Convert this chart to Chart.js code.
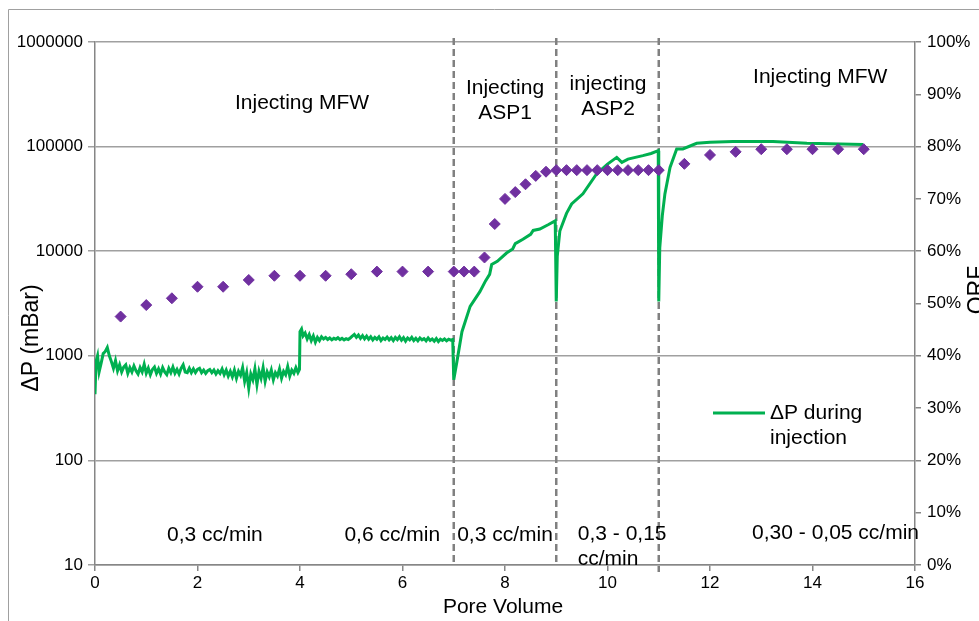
<!DOCTYPE html>
<html>
<head>
<meta charset="utf-8">
<script src="https://cdn.jsdelivr.net/npm/chart.js@4/dist/chart.umd.min.js"></script>
<style>
  html, body { margin: 0; padding: 0; background: #fff; }
  #wrap { width: 979px; height: 621px; position: relative; }
</style>
</head>
<body>
<div id="wrap"><canvas id="chart" width="979" height="621"></canvas></div>
<script>
// ΔP during the first MFW injection (0,3 cc/min)
const mfw1PV = [0, 0.02, 0.05, 0.08, 0.12, 0.16, 0.20, 0.24, 0.28, 0.32,
  0.36, 0.40, 0.44, 0.48, 0.52, 0.56, 0.60, 0.64, 0.68, 0.72,
  0.76, 0.80, 0.84, 0.88, 0.92, 0.96, 1.00, 1.04, 1.08, 1.12,
  1.16, 1.20, 1.24, 1.28, 1.32, 1.36, 1.40, 1.44, 1.48, 1.52,
  1.56, 1.60, 1.64, 1.68, 1.72, 1.76, 1.80, 1.84, 1.88, 1.92,
  1.96, 2.00, 2.04, 2.08, 2.12, 2.16, 2.20, 2.24, 2.28, 2.32,
  2.36, 2.40, 2.44, 2.48, 2.52, 2.56, 2.60, 2.64, 2.68, 2.72,
  2.76, 2.80, 2.84, 2.88, 2.92, 2.96, 3.00, 3.04, 3.08, 3.12,
  3.16, 3.20, 3.24, 3.28, 3.32, 3.36, 3.40, 3.44, 3.48, 3.52,
  3.56, 3.60, 3.64, 3.68, 3.72, 3.76, 3.80, 3.84, 3.88, 3.92,
  3.96, 3.99];
const mfw1DP = [430, 880, 1000, 700, 850, 1050, 1100, 1200, 1000, 880,
  760, 900, 720, 820, 700, 780, 820, 680, 770, 700,
  800, 720, 670, 770, 700, 830, 680, 760, 660, 740,
  780, 680, 750, 670, 770, 700, 660, 760, 690, 780,
  680, 740, 670, 760, 820, 700, 690, 760, 690, 750,
  690, 740, 760, 690, 730, 680, 720, 740, 690, 730,
  670, 720, 680, 750, 660, 730, 640, 710, 630, 730,
  610, 710, 650, 770, 570, 690, 490, 670, 590, 750,
  530, 710, 610, 770, 570, 700, 630, 730, 590, 690,
  640, 750, 610, 710, 660, 790, 640, 730, 680, 770,
  690, 740];

// ΔP during the second MFW injection (0,6 cc/min)
const mfw2PV = [4.00, 4.03, 4.06, 4.10, 4.14, 4.18, 4.22, 4.26, 4.30, 4.34,
  4.38, 4.42, 4.46, 4.50, 4.54, 4.58, 4.62, 4.66, 4.70, 4.74,
  4.78, 4.82, 4.86, 4.90, 4.94, 4.98, 5.02, 5.06, 5.10, 5.14,
  5.18, 5.22, 5.26, 5.30, 5.34, 5.38, 5.42, 5.46, 5.50, 5.54,
  5.58, 5.62, 5.66, 5.70, 5.74, 5.78, 5.82, 5.86, 5.90, 5.94,
  5.98, 6.02, 6.06, 6.10, 6.14, 6.18, 6.22, 6.26, 6.30, 6.34,
  6.38, 6.42, 6.46, 6.50, 6.54, 6.58, 6.62, 6.66, 6.70, 6.74,
  6.78, 6.82, 6.86, 6.90, 6.94, 6.98];
const mfw2DP = [1700, 1800, 1550, 1650, 1450, 1600, 1400, 1550, 1350, 1500,
  1400, 1520, 1450, 1500, 1430, 1480, 1420, 1470, 1440, 1490,
  1430, 1470, 1420, 1460, 1430, 1480, 1540, 1600, 1500, 1580,
  1470, 1560, 1450, 1540, 1440, 1520, 1420, 1500, 1440, 1520,
  1400, 1480, 1430, 1510, 1420, 1490, 1400, 1500, 1430, 1520,
  1410, 1490, 1380, 1480, 1420, 1500, 1400, 1470, 1390, 1480,
  1420, 1460, 1390, 1480, 1400, 1450, 1380, 1460, 1370, 1440,
  1400, 1450, 1390, 1440, 1410, 1430];

// ΔP during ASP1, ASP2 and the final MFW
const aspPV = [7.00, 7.06, 7.16, 7.32, 7.51, 7.62, 7.70, 7.74, 7.85, 8.03,
  8.15, 8.20, 8.35, 8.50, 8.55, 8.68, 8.85, 8.98, 9.00, 9.02,
  9.07, 9.20, 9.30, 9.52, 9.79, 10.00, 10.18, 10.28, 10.40, 10.69,
  10.85, 10.99, 11.00, 11.02, 11.07, 11.12, 11.22, 11.35, 11.47, 11.74,
  12.00, 12.45, 13.23, 13.89, 14.99];
const aspDP = [590, 870, 1700, 2970, 4100, 5200, 6000, 7450, 8000, 9600,
  10500, 11800, 13000, 14500, 15800, 16300, 18000, 19500, 3300, 9000,
  15600, 23000, 28300, 35400, 55000, 68000, 78900, 70600, 76000, 82000,
  86000, 91500, 3300, 10800, 22000, 35300, 63200, 95000, 95000, 107500,
  110000, 112000, 112000, 107500, 104500];

// ORF (%) points
const orfPV = [0.5, 1, 1.5, 2, 2.5, 3, 3.5, 4, 4.5, 5,
  5.5, 6, 6.5, 7, 7.2, 7.4, 7.6, 7.8, 8, 8.2,
  8.4, 8.6, 8.8, 9, 9.2, 9.4, 9.6, 9.8, 10, 10.2,
  10.4, 10.6, 10.8, 11, 11.5, 12, 12.5, 13, 13.5, 14,
  14.5, 15];
const orfVal = [47.5, 49.7, 51.0, 53.2, 53.2, 54.5, 55.3, 55.3, 55.3, 55.6,
  56.1, 56.1, 56.1, 56.1, 56.1, 56.1, 58.8, 65.2, 70.0, 71.3,
  72.8, 74.4, 75.2, 75.5, 75.5, 75.5, 75.5, 75.5, 75.5, 75.5,
  75.5, 75.5, 75.5, 75.5, 76.7, 78.4, 79.0, 79.5, 79.5, 79.5,
  79.5, 79.5];

const dpTicks = [10, 100, 1000, 10000, 100000, 1000000];
const phaseBounds = [7, 9, 11];

// text annotations: x in pore volume, y in ORF %
const notes = [
  { lines: ['Injecting MFW'], x: 4.04, y: 88.3 },
  { lines: ['Injecting', 'ASP1'], x: 8.0, y: 88.8 },
  { lines: ['injecting', 'ASP2'], x: 10.01, y: 89.5 },
  { lines: ['Injecting MFW'], x: 14.15, y: 93.3 },
  { lines: ['0,3 cc/min'], x: 2.34, y: 5.7 },
  { lines: ['0,6 cc/min'], x: 5.8, y: 5.7 },
  { lines: ['0,3 cc/min'], x: 8.0, y: 5.7 },
  { lines: ['0,3 - 0,15', 'cc/min'], x: 9.42, y: 3.5, align: 'left' },
  { lines: ['0,30 - 0,05 cc/min'], x: 14.45, y: 6.1 }
];

const GREEN = '#00b050';
const PURPLE = '#7030a0';
const FONT = '"Liberation Sans", Arial, sans-serif';

function pairs(xs, ys) {
  return xs.map((x, i) => ({ x: x, y: ys[i] }));
}

const dpData = pairs(mfw1PV, mfw1DP).concat(pairs(mfw2PV, mfw2DP), pairs(aspPV, aspDP));

const overlay = {
  id: 'overlay',
  beforeDatasetsDraw(chart) {
    const { ctx, chartArea, scales } = chart;
    ctx.save();
    ctx.strokeStyle = '#808080';
    ctx.lineWidth = 2.5;
    ctx.setLineDash([7, 4]);
    phaseBounds.forEach(b => {
      const px = scales.x.getPixelForValue(b);
      ctx.beginPath();
      ctx.moveTo(px, chartArea.top - 4);
      ctx.lineTo(px, chartArea.bottom + (b === 11 ? 7 : 0));
      ctx.stroke();
    });
    ctx.restore();
  },
  afterDraw(chart) {
    const { ctx, chartArea, scales } = chart;
    ctx.save();
    // outer frame
    ctx.strokeStyle = '#a0a0a0';
    ctx.lineWidth = 1;
    ctx.beginPath();
    ctx.moveTo(8.5, 700);
    ctx.lineTo(8.5, 9.5);
    ctx.lineTo(1200, 9.5);
    ctx.stroke();

    ctx.fillStyle = '#000';
    ctx.font = '21px ' + FONT;
    ctx.textBaseline = 'middle';
    notes.forEach(n => {
      const px = scales.x.getPixelForValue(n.x);
      const py = scales.y2.getPixelForValue(n.y);
      ctx.textAlign = n.align || 'center';
      const start = py - (n.lines.length - 1) * 12.5;
      n.lines.forEach((t, i) => ctx.fillText(t, px, start + i * 25));
    });

    // legend
    ctx.strokeStyle = GREEN;
    ctx.lineWidth = 3;
    ctx.beginPath();
    ctx.moveTo(713, 413);
    ctx.lineTo(765, 413);
    ctx.stroke();
    ctx.textAlign = 'left';
    ctx.fillText('ΔP during', 770, 413);
    ctx.fillText('injection', 770, 438);

    // axis titles
    ctx.textAlign = 'center';
    ctx.fillText('Pore Volume', (chartArea.left + chartArea.right) / 2 - 2, 607);
    ctx.font = '23px ' + FONT;
    ctx.save();
    ctx.translate(32, 338);
    ctx.rotate(-Math.PI / 2);
    ctx.fillText('ΔP (mBar)', 0, 0);
    ctx.restore();
    ctx.save();
    ctx.translate(978, 290);
    ctx.rotate(-Math.PI / 2);
    ctx.fillText('ORF', 0, 0);
    ctx.restore();
    ctx.restore();
  }
};

new Chart(document.getElementById('chart'), {
  type: 'scatter',
  data: {
    datasets: [
      {
        label: 'ΔP during injection',
        type: 'line',
        data: dpData,
        yAxisID: 'y',
        borderColor: GREEN,
        backgroundColor: GREEN,
        borderWidth: 3,
        pointRadius: 0,
        tension: 0,
        order: 2
      },
      {
        label: 'ORF',
        data: pairs(orfPV, orfVal),
        yAxisID: 'y2',
        pointStyle: 'rectRot',
        pointRadius: 5.5,
        pointBackgroundColor: PURPLE,
        pointBorderColor: PURPLE,
        showLine: false,
        order: 1
      }
    ]
  },
  options: {
    responsive: false,
    animation: false,
    layout: { padding: { top: 42, left: 0, right: 0, bottom: 0 } },
    plugins: {
      legend: { display: false },
      tooltip: { enabled: false }
    },
    scales: {
      x: {
        type: 'linear',
        min: 0,
        max: 16,
        ticks: { stepSize: 2, color: '#000', font: { family: FONT, size: 17 }, padding: 2, maxRotation: 0 },
        grid: { drawOnChartArea: false, tickLength: 6, color: '#868686', lineWidth: 1.5 },
        border: { color: '#868686', width: 1.5 },
        afterFit(s) { s.height = 56; }
      },
      y: {
        type: 'logarithmic',
        position: 'left',
        min: 10,
        max: 1000000,
        afterBuildTicks(s) { s.ticks = dpTicks.map(v => ({ value: v })); },
        ticks: { color: '#000', font: { family: FONT, size: 17 }, padding: 5, callback: v => String(v) },
        grid: { color: '#a0a0a0', lineWidth: 1.5, tickLength: 7 },
        border: { color: '#868686', width: 1.5 },
        afterFit(s) { s.width = 95; }
      },
      y2: {
        type: 'linear',
        position: 'right',
        min: 0,
        max: 100,
        ticks: { stepSize: 10, color: '#000', font: { family: FONT, size: 17 }, padding: 6, callback: v => v + '%' },
        grid: { drawOnChartArea: false, tickLength: 6, color: '#868686', lineWidth: 1.5 },
        border: { color: '#868686', width: 1.5 },
        afterFit(s) { s.width = 64; }
      }
    }
  },
  plugins: [overlay]
});
</script>
</body>
</html>
